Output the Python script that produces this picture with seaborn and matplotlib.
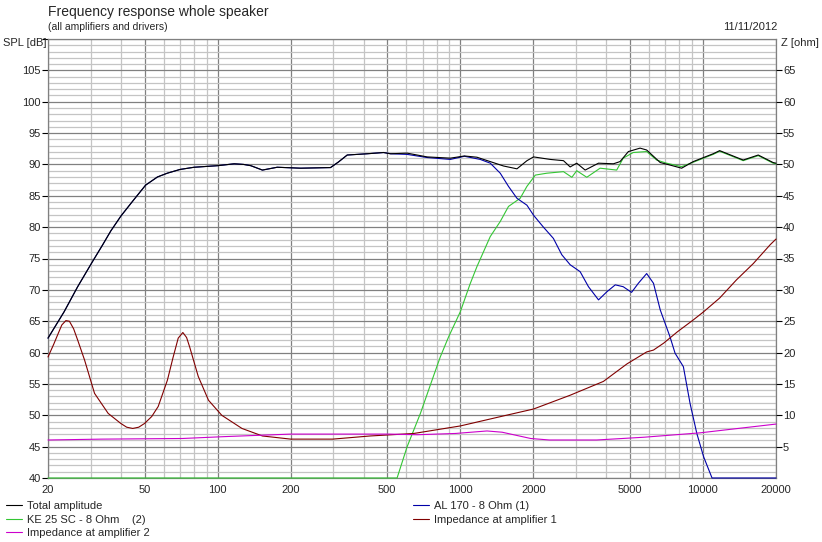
import matplotlib
matplotlib.use("Agg")
import matplotlib.pyplot as plt
import seaborn as sns
from matplotlib.ticker import FixedLocator, NullFormatter

# Total amplitude (SPL, dB)
freq_total = [20, 23.3, 26.5, 30.5, 33.5, 36.3, 40, 45, 50.5, 56.5, 62, 70, 80, 100, 117, 128, 137,
              153, 176, 220, 292, 315, 342, 413, 483, 516, 604, 730, 910, 1040, 1171, 1329, 1507,
              1712, 1883, 2004, 2347, 2662, 2837, 3019, 3270, 3712, 4275, 4552, 4928, 5506, 5862,
              6668, 7317, 8170, 9118, 11017, 11720, 14650, 16900, 19460, 20000]
spl_total = [62.3, 66.5, 70.5, 74.5, 77.1, 79.4, 81.8, 84.3, 86.7, 88.0, 88.6, 89.2, 89.55, 89.8,
             90.1, 90.0, 89.8, 89.1, 89.55, 89.4, 89.5, 90.4, 91.5, 91.7, 91.9, 91.7, 91.8, 91.2,
             91.0, 91.35, 91.15, 90.45, 89.75, 89.3, 90.6, 91.2, 90.8, 90.6, 89.6, 90.2, 89.1,
             90.2, 90.1, 90.45, 92.05, 92.6, 92.3, 90.3, 89.9, 89.4, 90.45, 91.7, 92.2, 90.7,
             91.5, 90.3, 90.2]

# AL 170 woofer (SPL, dB)
freq_al = [20, 23.3, 26.5, 30.5, 33.5, 36.3, 40, 45, 50.5, 56.5, 62, 70, 80, 100, 117, 128, 137,
           153, 176, 220, 292, 315, 342, 413, 483, 516, 604, 730, 910, 1040,
           1208, 1329, 1461, 1580, 1712, 1882, 2004, 2201, 2420, 2620, 2837, 3118, 3375, 3712,
           4020, 4352, 4693, 5080, 5418, 5862, 6254, 6668, 7317, 7675, 8305, 8848, 9436, 10060,
           10900, 20000]
spl_al = [62.3, 66.5, 70.5, 74.5, 77.1, 79.4, 81.8, 84.3, 86.7, 88.0, 88.6, 89.2, 89.55, 89.8,
          90.1, 90.0, 89.8, 89.1, 89.55, 89.4, 89.5, 90.4, 91.5, 91.7, 91.9, 91.7, 91.6, 91.1,
          90.8, 91.3, 90.8, 90.2, 88.6, 86.5, 84.6, 83.5, 81.9, 80.0, 78.2, 75.6, 74.0,
          72.9, 70.5, 68.4, 69.7, 70.8, 70.5, 69.6, 71.05, 72.6, 71.05, 66.8, 62.5, 59.9, 57.75,
          51.9, 47.1, 43.4, 40.0, 40.0]

# KE 25 SC tweeter (SPL, dB)
freq_ke = [20, 549, 604, 685, 765, 827, 895, 1000, 1099, 1171, 1329, 1461, 1580, 1765, 1882,
           2038, 2273, 2662, 2883, 3019, 3321, 3768, 4411, 4693, 5157, 5862, 6443, 7080, 8170,
           9118, 11017, 11720, 14650, 16900, 19460, 20000]
spl_ke = [40, 40, 45.0, 50.3, 55.6, 59.3, 62.5, 66.5, 71.0, 73.7, 78.5, 80.9, 83.3, 84.6, 86.5,
          88.3, 88.6, 88.85, 87.95, 89.0, 87.95, 89.4, 89.1, 91.0, 91.9, 92.05, 90.7, 90.2, 89.65,
          90.35, 91.6, 92.1, 90.6, 91.4, 90.2, 90.1]

# Impedance at amplifier 1 (ohm)
freq_z1 = [20, 21.1, 21.9, 22.8, 23.7, 24.5, 25.5, 26.5, 28.3, 31.1, 35.4, 39.9, 42.2, 44.7,
           47.3, 50, 53.5, 56.9, 62.1, 65.5, 68.8, 71.9, 74.5, 76.7, 83.2, 91.7, 104, 126, 153,
           200, 298, 425, 643, 1000, 1507, 2004, 2347, 2837, 3321, 3888, 4865, 5862, 6254, 6887,
           7840, 9118, 10060, 11720, 13750, 16130, 18930, 20000]
z1 = [19.3, 21.3, 22.8, 24.4, 25.1, 25.0, 23.8, 22.0, 18.8, 13.5, 10.3, 8.7, 8.1, 7.9, 8.1, 8.7,
      9.8, 11.4, 15.6, 19.2, 22.3, 23.2, 22.4, 20.9, 16.2, 12.4, 10.0, 7.9, 6.7, 6.2, 6.2, 6.7,
      7.1, 8.3, 9.9, 11.0, 12.0, 13.2, 14.3, 15.4, 18.2, 20.1, 20.4, 21.5, 23.3, 25.2, 26.5,
      28.7, 31.6, 34.2, 37.2, 38.1]

# Impedance at amplifier 2 (ohm)
freq_z2 = [20, 33.4, 71.6, 107, 200, 511, 665, 954, 1288, 1488, 1950, 2330, 3644, 5710, 9730, 20000]
z2 = [6.06, 6.2, 6.3, 6.6, 7.0, 7.0, 6.9, 7.1, 7.5, 7.3, 6.3, 6.06, 6.06, 6.5, 7.2, 8.6]

x_ticks = [20, 50, 100, 200, 500, 1000, 2000, 5000, 10000, 20000]
spl_ticks = list(range(40, 115, 5))
z_ticks = list(range(5, 70, 5))

sns.set_style("white")
plt.rcParams['font.family'] = ['Liberation Sans', 'DejaVu Sans']

fig = plt.figure(figsize=(8.22, 5.42), dpi=100)
ax = fig.add_axes([48 / 822, 64 / 542, 728 / 822, 439 / 542])
ax2 = ax.twinx()

lw = 0.8
sns.lineplot(x=freq_ke, y=spl_ke, ax=ax, color="#33c633", linewidth=lw, label="KE 25 SC - 8 Ohm    (2)", legend=False)
sns.lineplot(x=freq_al, y=spl_al, ax=ax, color="#0000a8", linewidth=lw, label="AL 170 - 8 Ohm (1)", legend=False)
sns.lineplot(x=freq_total, y=spl_total, ax=ax, color="black", linewidth=lw, label="Total amplitude", legend=False)
sns.lineplot(x=freq_z1, y=z1, ax=ax2, color="#800000", linewidth=lw, label="Impedance at amplifier 1", legend=False)
sns.lineplot(x=freq_z2, y=z2, ax=ax2, color="#cc00cc", linewidth=lw, label="Impedance at amplifier 2", legend=False)

for line in ax.get_lines() + ax2.get_lines():
    line.set_clip_on(False)
    line.set_zorder(3)

ax.set_xscale('log')
ax.set_xlim(20, 20000)
ax.set_ylim(40, 110)
ax2.set_ylim(0, 70)

# vertical grid: 1-2-5 dark, the rest light
minors = []
for dec in [10, 100, 1000]:
    for k in range(2, 10):
        v = k * dec
        if 20 <= v <= 20000 and v not in x_ticks:
            minors.append(v)
ax.xaxis.set_major_locator(FixedLocator(x_ticks))
ax.xaxis.set_minor_locator(FixedLocator(minors))
ax.set_xticklabels([str(t) for t in x_ticks])
ax.xaxis.set_minor_formatter(NullFormatter())

ax.yaxis.set_major_locator(FixedLocator(spl_ticks))
ax.yaxis.set_minor_locator(FixedLocator([v for v in range(40, 111) if v % 5]))
ax.set_yticklabels([str(t) if t < 110 else "" for t in spl_ticks])

ax.grid(which='major', color='#808080', linewidth=0.9)
ax.grid(which='minor', color='#c4c4c4', linewidth=0.9)
ax.set_axisbelow(True)

ax.tick_params(axis='x', which='both', length=0, pad=5, labelsize=8)
ax.tick_params(axis='y', which='major', length=4, width=0.8, color='black', pad=1, labelsize=8, left=True)
ax.tick_params(axis='y', which='minor', length=0)

ax2.yaxis.set_major_locator(FixedLocator(z_ticks))
ax2.set_yticklabels([str(t) for t in z_ticks])
ax2.tick_params(axis='y', which='major', length=4, width=0.8, color='black', pad=1, labelsize=8, right=True)
ax2.grid(False)

for sp in ax.spines.values():
    sp.set_color('#808080')
    sp.set_linewidth(0.9)
    sp.set_zorder(1)
for sp in ax2.spines.values():
    sp.set_visible(False)

ax.set_xlabel("")
ax.set_ylabel("")
ax2.set_ylabel("")

fig.text(48 / 822, 1 - 12 / 542, "Frequency response whole speaker", fontsize=10, va='center', ha='left')
fig.text(48 / 822, 1 - 27 / 542, "(all amplifiers and drivers)", fontsize=7.5, va='center', ha='left')
fig.text(777 / 822, 1 - 27 / 542, "11/11/2012", fontsize=8, va='center', ha='right')
fig.text(3 / 822, 1 - 43 / 542, "SPL [dB]", fontsize=8, va='center', ha='left')
fig.text(781 / 822, 1 - 43 / 542, "Z [ohm]", fontsize=8, va='center', ha='left')

handles = {line.get_label(): line for line in ax.get_lines() + ax2.get_lines()}
leg_kw = dict(loc='upper left', frameon=False, borderpad=0, borderaxespad=0, fontsize=8,
              handlelength=1.4, handletextpad=0.45, labelspacing=0.33)
fig.legend(handles=[handles["Total amplitude"], handles["KE 25 SC - 8 Ohm    (2)"],
                    handles["Impedance at amplifier 2"]],
           bbox_to_anchor=(6 / 822, 1 - 501 / 542), **leg_kw)
fig.legend(handles=[handles["AL 170 - 8 Ohm (1)"], handles["Impedance at amplifier 1"]],
           bbox_to_anchor=(413 / 822, 1 - 501 / 542), **leg_kw)

fig.savefig("out.png", dpi=100, facecolor='white')
